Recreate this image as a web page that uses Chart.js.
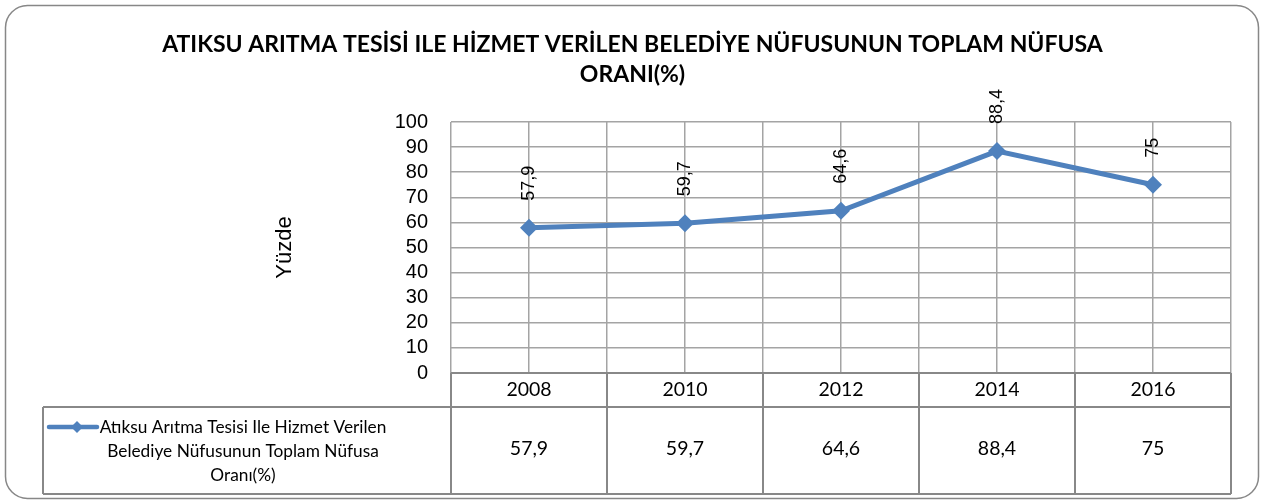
<!DOCTYPE html>
<html>
<head>
<meta charset="utf-8">
<script src="https://cdn.jsdelivr.net/npm/chart.js@4.4.0/dist/chart.umd.min.js"></script>
<style>
  html, body { margin: 0; padding: 0; background: #fff; }
  #wrap { width: 1265px; height: 504px; }
</style>
</head>
<body>
<div id="wrap"><canvas id="chart" width="1265" height="504"></canvas></div>
<script>
'use strict';

// --- data ---
const years = ['2008', '2010', '2012', '2014', '2016'];
const values = [57.9, 59.7, 64.6, 88.4, 75];
const titleLines = ['ATIKSU ARITMA TESİSİ ILE HİZMET VERİLEN BELEDİYE NÜFUSUNUN TOPLAM NÜFUSA', 'ORANI(%)'];
const seriesLabel = ['Atıksu Arıtma Tesisi Ile Hizmet Verilen', 'Belediye Nüfusunun Toplam Nüfusa', 'Oranı(%)'];
const yTitle = 'Yüzde';
const yMin = 0, yMax = 100, yStep = 10;

const BLUE = '#4F81BD';
const GRID = '#A4A4A4';
const TABLE = '#888888';
const SIDE = 34; // equal side padding keeps the title centred on the page
const fmt = v => String(v).replace('.', ',');

// each year sits in the middle of a 2-unit slot, so gridlines fall on slot edges and centres
const points = values.map((v, i) => ({ x: 2 * i + 1, y: v }));

function diamond(ctx, x, y, r) {
  ctx.beginPath();
  ctx.moveTo(x, y - r); ctx.lineTo(x + r, y); ctx.lineTo(x, y + r); ctx.lineTo(x - r, y);
  ctx.closePath();
  ctx.fill();
}

const excelFrame = {
  id: 'excelFrame',
  beforeDraw(chart) {
    const ctx = chart.ctx;
    ctx.save();
    ctx.fillStyle = '#fff';
    ctx.fillRect(0, 0, chart.width, chart.height);
    ctx.restore();
  },
  afterDatasetsDraw(chart) {
    // rotated value labels above the markers
    const ctx = chart.ctx;
    const meta = chart.getDatasetMeta(0);
    ctx.save();
    ctx.font = '18px "Liberation Sans", Arial, sans-serif';
    ctx.fillStyle = '#000';
    ctx.textAlign = 'left';
    ctx.textBaseline = 'middle';
    meta.data.forEach((pt, i) => {
      ctx.save();
      ctx.translate(pt.x, pt.y - 27);
      ctx.rotate(-Math.PI / 2);
      ctx.fillText(fmt(values[i]), 0, 0);
      ctx.restore();
    });
    ctx.restore();
  },
  afterDraw(chart) {
    const ctx = chart.ctx;
    const xs = chart.scales.x;
    const area = chart.chartArea;
    const top = area.bottom, mid = top + 34, bot = mid + 87;
    const legLeft = 43;
    const edges = [];
    for (let v = 0; v <= years.length * 2; v += 2) edges.push(xs.getPixelForValue(v));
    const right = edges[edges.length - 1];

    ctx.save();
    // data table grid
    ctx.strokeStyle = TABLE;
    ctx.lineWidth = 2;
    ctx.beginPath();
    ctx.moveTo(edges[0], top); ctx.lineTo(right, top);
    ctx.moveTo(legLeft, mid); ctx.lineTo(right, mid);
    ctx.moveTo(legLeft, bot); ctx.lineTo(right, bot);
    ctx.moveTo(legLeft, mid); ctx.lineTo(legLeft, bot);
    edges.forEach(x => { ctx.moveTo(x, top); ctx.lineTo(x, bot); });
    ctx.stroke();

    // years and values
    ctx.fillStyle = '#000';
    ctx.textAlign = 'center';
    ctx.textBaseline = 'middle';
    ctx.font = '19.5px Lato, "Open Sans", sans-serif';
    years.forEach((y, i) => {
      const cx = xs.getPixelForValue(2 * i + 1);
      ctx.fillText(y, cx, (top + mid) / 2);
      ctx.fillText(fmt(values[i]), cx, (mid + bot) / 2 - 2);
    });

    // legend cell
    ctx.font = '17.3px Lato, "Open Sans", sans-serif';
    const textX = 243;
    const lineY = mid + 20;
    seriesLabel.forEach((t, i) => ctx.fillText(t, textX, lineY + i * 24));
    ctx.strokeStyle = BLUE;
    ctx.lineWidth = 4.5;
    ctx.lineCap = 'round';
    ctx.beginPath();
    ctx.moveTo(49, lineY); ctx.lineTo(97, lineY);
    ctx.stroke();
    ctx.fillStyle = BLUE;
    diamond(ctx, 77, lineY, 6);

    // rounded outer frame
    ctx.strokeStyle = '#878787';
    ctx.lineWidth = 1.5;
    ctx.beginPath();
    ctx.roundRect(5.5, 5.5, 1253, 493, 22);
    ctx.stroke();
    ctx.restore();
  }
};

new Chart(document.getElementById('chart'), {
  type: 'line',
  data: {
    datasets: [{
      label: seriesLabel.join(' '),
      data: points,
      borderColor: BLUE,
      backgroundColor: BLUE,
      borderWidth: 5,
      pointStyle: 'rectRot',
      pointRadius: 9,
      pointHoverRadius: 9,
      pointBorderWidth: 0,
      tension: 0,
    }],
  },
  options: {
    responsive: false,
    animation: false,
    devicePixelRatio: 1,
    layout: { padding: { top: 0, right: SIDE, bottom: 0, left: SIDE } },
    plugins: {
      legend: { display: false },
      tooltip: { enabled: false },
      title: {
        display: true,
        text: titleLines,
        color: '#000',
        font: { family: 'Lato, "Open Sans", sans-serif', size: 23, weight: 'bold', lineHeight: 30 / 23 },
        padding: { top: 30, bottom: 32 },
      },
    },
    scales: {
      x: {
        type: 'linear',
        min: 0,
        max: years.length * 2,
        ticks: { display: false, stepSize: 1 },
        grid: { color: GRID, lineWidth: 1.5, drawTicks: false },
        border: { display: false },
        afterFit(scale) { scale.height = 131; },
      },
      y: {
        min: yMin,
        max: yMax,
        ticks: {
          stepSize: yStep,
          autoSkip: false,
          padding: 23,
          color: '#000',
          font: { family: '"Liberation Sans", Arial, sans-serif', size: 20, lineHeight: 1 },
        },
        grid: { color: GRID, lineWidth: 1.5, drawTicks: false },
        border: { display: false },
        title: {
          display: true,
          text: yTitle,
          color: '#000',
          font: { family: '"Liberation Sans", Arial, sans-serif', size: 22 },
          padding: { top: 285 - SIDE - 13, bottom: 0 },
        },
        afterFit(scale) { scale.width = 451 - SIDE; },
      },
    },
  },
  plugins: [excelFrame],
});
</script>
</body>
</html>
